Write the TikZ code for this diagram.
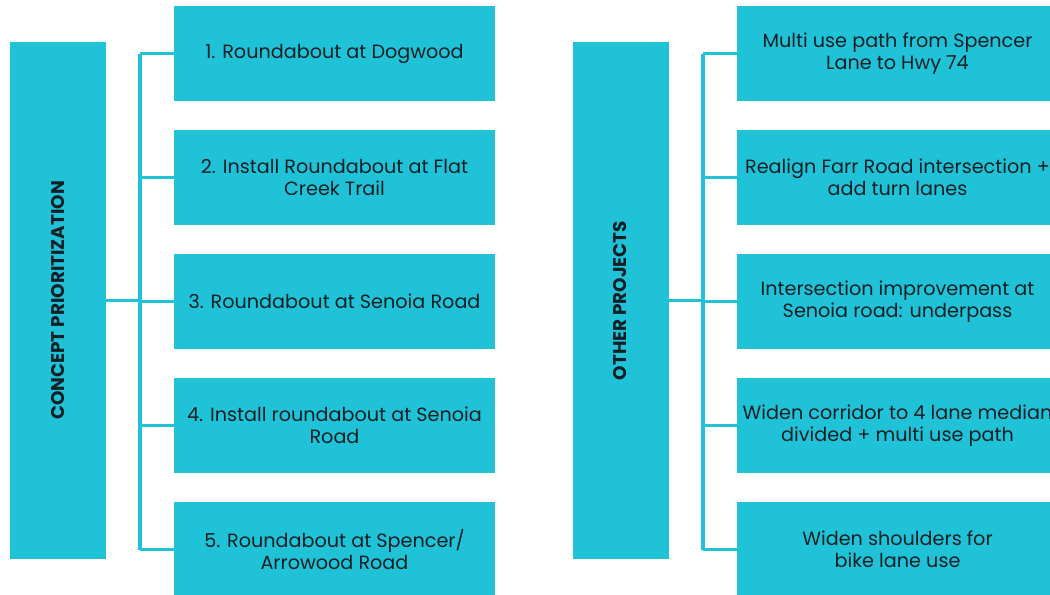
\documentclass[tikz,border=0pt]{standalone}
\usepackage{fontspec}
\setmainfont{Poppins}
\usetikzlibrary{positioning}
\definecolor{tealbox}{RGB}{31,194,214}
\definecolor{inktext}{RGB}{18,32,38}

\begin{document}
\begin{tikzpicture}[x=0.75pt,y=-0.75pt,
    item/.style={fill=tealbox, text=inktext, align=center, minimum width=240.75pt, minimum height=71.25pt, inner sep=0pt, font=\fontsize{14.4}{16.6}\selectfont},
    group/.style={fill=tealbox, text=inktext, minimum width=72pt, minimum height=387.75pt, inner sep=0pt, font=\fontsize{13.8}{15}\selectfont\bfseries},
    link/.style={draw=tealbox, line width=2.4pt}]
            \useasboundingbox (0,0) rectangle (1050,594);
            % Concept prioritization list
            \node[group] (concept) at (58,300.5) {\rotatebox{90}{CONCEPT PRIORITIZATION}};
            \node[item] (c1) at (334.5,53.5) {1. Roundabout at Dogwood};
            \node[item] (c2) at (334.5,177.5) {2. Install Roundabout at Flat\\Creek Trail};
            \node[item] (c3) at (334.5,301.5) {3. Roundabout at Senoia Road};
            \node[item] (c4) at (334.5,425.5) {4. Install roundabout at Senoia\\Road};
            \node[item] (c5) at (334.5,549.5) {5. Roundabout at Spencer/\\Arrowood Road};
            \coordinate (cbus) at (140,301);
            
            \draw[link] (concept.east) -- (cbus |- concept.east);
            \draw[link] (cbus |- c1.west) -- (cbus |- c5.west);
            \foreach \n in {c1,c2,c3,c4,c5}
                \draw[link] (cbus |- \n.west) -- (\n.west);
            
            % Other projects list
            \node[group] (other) at (620.5,300.5) {\rotatebox{90}{OTHER PROJECTS}};
            \node[item] (o1) at (897.5,53.5) {Multi use path from Spencer\\Lane to Hwy 74};
            \node[item] (o2) at (897.5,177.5) {Realign Farr Road intersection +\\add turn lanes};
            \node[item] (o3) at (897.5,301.5) {Intersection improvement at\\Senoia road: underpass};
            \node[item] (o4) at (897.5,425.5) {Widen corridor to 4 lane median\\divided + multi use path};
            \node[item] (o5) at (897.5,549.5) {Widen shoulders for\\bike lane use};
            \coordinate (obus) at (703,301);
            
            \draw[link] (other.east) -- (obus |- other.east);
            \draw[link] (obus |- o1.west) -- (obus |- o5.west);
            \foreach \n in {o1,o2,o3,o4,o5}
                \draw[link] (obus |- \n.west) -- (\n.west);
        \end{tikzpicture}
\end{document}
